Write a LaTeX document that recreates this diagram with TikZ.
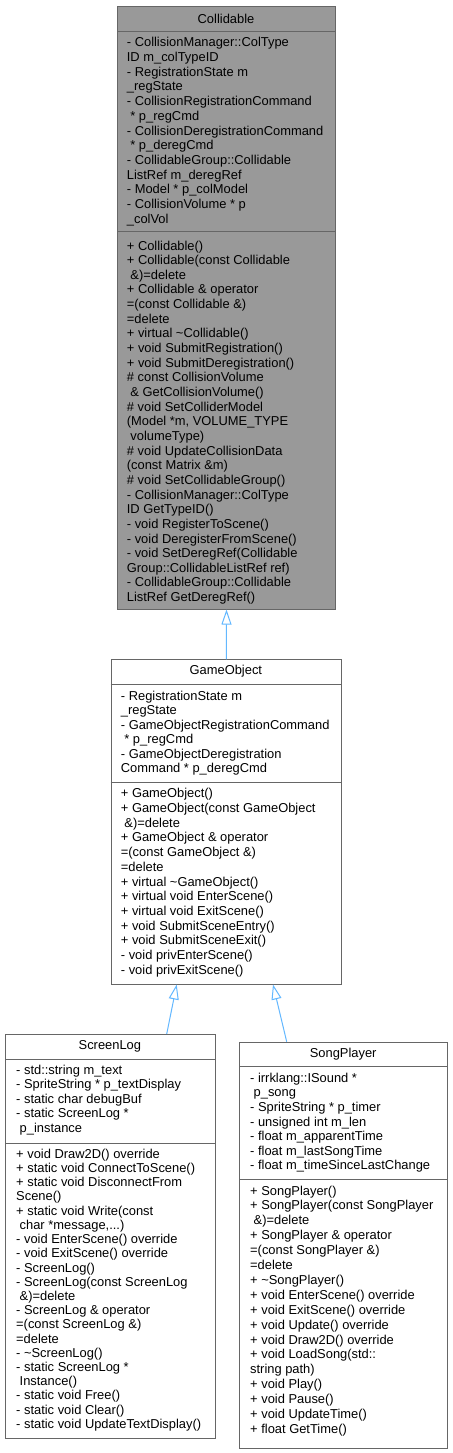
\documentclass[tikz,border=0pt]{standalone}
\usepackage{fontspec}
\setmainfont{Liberation Sans}
\usetikzlibrary{arrows.meta}
\definecolor{edgeblue}{HTML}{63B8FF}
\definecolor{boxgray}{HTML}{666666}
\definecolor{hifill}{HTML}{999999}
\newcommand\lsp{\hspace*{3.5bp}}
\begin{document}
\begin{tikzpicture}[x=1bp,y=-1bp,
 classbox/.style={draw=boxgray, line width=1bp, fill=white, inner sep=0pt, anchor=north west},
 sepline/.style={draw=boxgray, line width=1bp},
 members/.style={font=\fontsize{12.9bp}{#1}\selectfont, align=left, inner sep=0pt, anchor=west},
 title/.style={font=\fontsize{12.9bp}{15bp}\selectfont, inner sep=0pt},
 inh/.style={draw=edgeblue, line width=1bp, -{Triangle[open, length=15bp, width=10bp]}}]
\fill[white] (0,0) rectangle (453,1453);
\useasboundingbox (0,0) rectangle (453,1453);

% ---------- Collidable ----------
\node[classbox, fill=hifill, minimum width=218bp, minimum height=602.5bp] (col) at (117,6) {};
\draw[sepline] (117,31.7) -- (335,31.7);
\draw[sepline] (117,231.7) -- (335,231.7);
\node[title] (colT) at (226,18.9) {Collidable};
\node[members=14.72bp] (colA) at (126.7,131.7) {- CollisionManager::ColType\\
ID m\_colTypeID\\
- RegistrationState m\\
\_regState\\
- CollisionRegistrationCommand\\
\lsp * p\_regCmd\\
- CollisionDeregistrationCommand\\
\lsp * p\_deregCmd\\
- CollidableGroup::Collidable\\
ListRef m\_deregRef\\
- Model * p\_colModel\\
- CollisionVolume * p\\
\_colVol};
\node[members=14.65bp] (colM) at (126.7,422.5) {+ Collidable()\\
+ Collidable(const Collidable\\
\lsp \&)=delete\\
+ Collidable \& operator\\
=(const Collidable \&)\\
=delete\\
+ virtual \textasciitilde Collidable()\\
+ void SubmitRegistration()\\
+ void SubmitDeregistration()\\
\# const CollisionVolume\\
\lsp \& GetCollisionVolume()\\
\# void SetColliderModel\\
(Model *m, VOLUME\_TYPE\\
\lsp volumeType)\\
\# void UpdateCollisionData\\
(const Matrix \&m)\\
\# void SetCollidableGroup()\\
- CollisionManager::ColType\\
ID GetTypeID()\\
- void RegisterToScene()\\
- void DeregisterFromScene()\\
- void SetDeregRef(Collidable\\
Group::CollidableListRef ref)\\
- CollidableGroup::Collidable\\
ListRef GetDeregRef()};

% ---------- GameObject ----------
\node[classbox, minimum width=230.3bp, minimum height=324.7bp] (go) at (110.7,659.3) {};
\draw[sepline] (110.7,684.3) -- (341,684.3);
\draw[sepline] (110.7,782.7) -- (341,782.7);
\node[title] (goT) at (225.85,671.6) {GameObject};
\node[members=14.52bp] (goA) at (120.7,733) {- RegistrationState m\\
\_regState\\
- GameObjectRegistrationCommand\\
\lsp * p\_regCmd\\
- GameObjectDeregistration\\
Command * p\_deregCmd};
\node[members=14.72bp] (goM) at (120.7,882.7) {+ GameObject()\\
+ GameObject(const GameObject\\
\lsp \&)=delete\\
+ GameObject \& operator\\
=(const GameObject \&)\\
=delete\\
+ virtual \textasciitilde GameObject()\\
+ virtual void EnterScene()\\
+ virtual void ExitScene()\\
+ void SubmitSceneEntry()\\
+ void SubmitSceneExit()\\
- void privEnterScene()\\
- void privExitScene()};

% ---------- ScreenLog ----------
\node[classbox, minimum width=209.7bp, minimum height=403.7bp] (sl) at (5,1034) {};
\draw[sepline] (5,1059.3) -- (214.7,1059.3);
\draw[sepline] (5,1143.3) -- (214.7,1143.3);
\node[title] (slT) at (109.85,1046.5) {ScreenLog};
\node[members=14.65bp] (slA) at (16,1100) {- std::string m\_text\\
- SpriteString * p\_textDisplay\\
- static char debugBuf\\
- static ScreenLog *\\
\lsp p\_instance};
\node[members=14.21bp] (slM) at (16,1290) {+ void Draw2D() override\\
+ static void ConnectToScene()\\
+ static void DisconnectFrom\\
Scene()\\
+ static void Write(const\\
\lsp char *message,...)\\
- void EnterScene() override\\
- void ExitScene() override\\
- ScreenLog()\\
- ScreenLog(const ScreenLog\\
\lsp \&)=delete\\
- ScreenLog \& operator\\
=(const ScreenLog \&)\\
=delete\\
- \textasciitilde ScreenLog()\\
- static ScreenLog *\\
\lsp Instance()\\
- static void Free()\\
- static void Clear()\\
- static void UpdateTextDisplay()};

% ---------- SongPlayer ----------
\node[classbox, minimum width=208.3bp, minimum height=406bp] (sp) at (239,1041.7) {};
\draw[sepline] (239,1066.7) -- (447.3,1066.7);
\draw[sepline] (239,1179.3) -- (447.3,1179.3);
\node[title] (spT) at (343.15,1054.2) {SongPlayer};
\node[members=14.6bp] (spA) at (250,1122.8) {- irrklang::ISound *\\
\lsp p\_song\\
- SpriteString * p\_timer\\
- unsigned int m\_len\\
- float m\_apparentTime\\
- float m\_lastSongTime\\
- float m\_timeSinceLastChange};
\node[members=14.9bp] (spM) at (250,1310.9) {+ SongPlayer()\\
+ SongPlayer(const SongPlayer\\
\lsp \&)=delete\\
+ SongPlayer \& operator\\
=(const SongPlayer \&)\\
=delete\\
+ \textasciitilde SongPlayer()\\
+ void EnterScene() override\\
+ void ExitScene() override\\
+ void Update() override\\
+ void Draw2D() override\\
+ void LoadSong(std::\\
string path)\\
+ void Play()\\
+ void Pause()\\
+ void UpdateTime()\\
+ float GetTime()};

% ---------- inheritance edges ----------
\draw[inh] (go.north) -- (col.south);
\coordinate (slTop) at (166.7,1034);
\coordinate (goBL) at (176.7,984.5);
\coordinate (spTop) at (286.7,1041.7);
\coordinate (goBR) at (273,984.5);
\draw[inh] (slTop) -- (goBL);
\draw[inh] (spTop) -- (goBR);
\end{tikzpicture}
\end{document}
